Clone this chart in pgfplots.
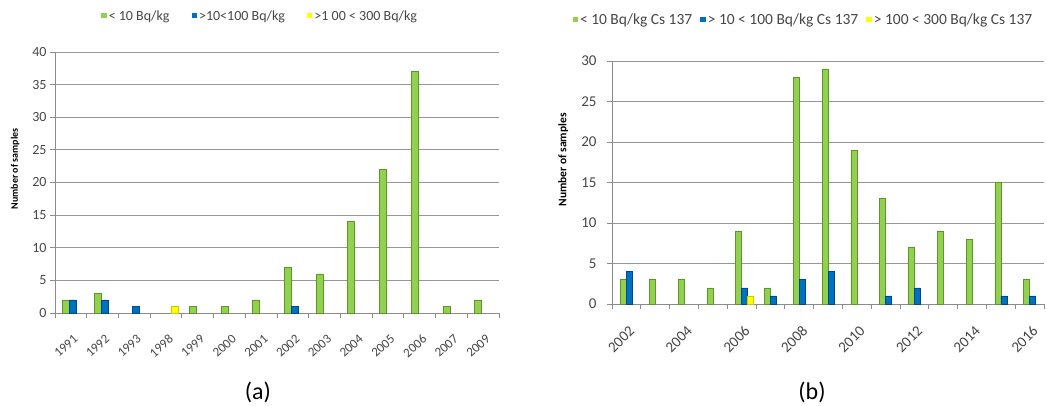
\documentclass[border=0pt]{standalone}
\usepackage{fontspec}
\setmainfont{Carlito}
\usepackage{pgfplots}
\pgfplotsset{compat=1.18}
\definecolor{xgreen}{RGB}{146,208,80}
\definecolor{xgreend}{RGB}{96,150,40}
\definecolor{xblue}{RGB}{0,112,192}
\definecolor{xblued}{RGB}{0,72,140}
\definecolor{xyellow}{RGB}{255,255,0}
\definecolor{xyellowd}{RGB}{210,200,0}
\definecolor{xgrid}{RGB}{150,150,150}
\definecolor{xaxis}{RGB}{140,140,140}
\definecolor{xtext}{RGB}{70,70,70}
\pgfplotsset{
  common/.style={
    scale only axis,
    enlargelimits=false,
    ymin=0,
    axis x line*=bottom, axis y line*=left,
    axis line style={draw=xaxis, line width=0.8pt},
    ymajorgrids, grid style={draw=xgrid, line width=0.8pt},
    tick align=outside, major tick length=5pt, minor tick length=5pt,
    tick style={draw=xaxis, line width=0.8pt},
    major x tick style={draw=none},
    /pgf/number format/assume math mode=true,
    yticklabel style={text=xtext},
    legend cell align=left,
    legend image code/.code={\fill[##1,draw=none] (0pt,-2.5pt) rectangle (5.5pt,2.5pt);},
  },
  gbar/.style={ybar, fill=xgreen, draw=xgreend, line width=0.6pt},
  bbar/.style={ybar, fill=xblue, draw=xblued, line width=0.6pt},
  ybarr/.style={ybar, fill=xyellow, draw=xyellowd, line width=0.6pt},
}
\begin{document}
\begin{tikzpicture}[x=1pt,y=1pt]
\useasboundingbox (0,0) rectangle (1047,405);
% ---------- (a) ----------
\begin{axis}[common,
  at={(55pt,92pt)}, anchor=south west,
  width=444pt, height=261pt,
  xmin=-0.5, xmax=13.5, ymax=40,
  ytick={0,5,...,40},
  xtick={0,...,13},
  xticklabels={1991,1992,1993,1998,1999,2000,2001,2002,2003,2004,2005,2006,2007,2009},
  minor xtick={-0.5,0.5,...,13.5},
  yticklabel style={font=\fontsize{14}{14}\selectfont},
  xticklabel style={font=\fontsize{13}{13}\selectfont, text=xtext, inner sep=0.5pt,
    xshift=2pt, yshift=-15pt, rotate=42, anchor=north east},
  ylabel={\textbf{Number of samples}},
  ylabel style={at={(axis description cs:-0.090,0.552)}, anchor=center, font=\fontsize{10}{10}\selectfont, text=black},
  legend columns=3,
  legend style={at={(0.462,1.138)}, anchor=center, draw=none, fill=none,
    font=\fontsize{14}{14}\selectfont, text=xtext,
    /tikz/every even column/.append style={column sep=20pt}},
]
\addplot[gbar, bar width=7pt, bar shift=-5pt] coordinates {(0,2)(1,3)(4,1)(5,1)(6,2)(7,7)(8,6)(9,14)(10,22)(11,37)(12,1)(13,2)};
\addlegendentry{< 10 Bq/kg}
\addplot[bbar, bar width=7pt, bar shift=2pt] coordinates {(0,2)(1,2)(2,1)(7,1)};
\addlegendentry{>10<100 Bq/kg}
\addplot[ybarr, bar width=7pt, bar shift=9pt] coordinates {(3,1)};
\addlegendentry{>1 00 < 300 Bq/kg}
\end{axis}
% ---------- (b) ----------
\begin{axis}[common,
  at={(612pt,101pt)}, anchor=south west,
  width=432pt, height=243pt,
  xmin=-0.5, xmax=14.5, ymax=30,
  ytick={0,5,...,30},
  xtick={0,2,...,14},
  xticklabels={2002,2004,2006,2008,2010,2012,2014,2016},
  minor xtick={-0.5,0.5,...,14.5},
  yticklabel style={font=\fontsize{15}{15}\selectfont, xshift=-7pt},
  xticklabel style={font=\fontsize{15}{15}\selectfont, text=xtext, inner sep=0.5pt,
    xshift=2pt, yshift=-15pt, rotate=45, anchor=north east},
  ylabel={\textbf{Number of samples}},
  ylabel style={at={(axis description cs:-0.113,0.593)}, anchor=center, font=\fontsize{11.5}{11.5}\selectfont, text=black},
  legend columns=3,
  legend style={at={(0.443,1.169)}, anchor=center, draw=none, fill=none,
    font=\fontsize{15.5}{15.5}\selectfont, text=xtext,
    /tikz/every even column/.append style={column sep=6pt}},
]
\addplot[gbar, bar width=6pt, bar shift=-3pt] coordinates {(0,3)(1,3)(2,3)(3,2)(4,9)(5,2)(6,28)(7,29)(8,19)(9,13)(10,7)(11,9)(12,8)(13,15)(14,3)};
\addlegendentry{< 10 Bq/kg Cs 137}
\addplot[bbar, bar width=6pt, bar shift=3pt] coordinates {(0,4)(4,2)(5,1)(6,3)(7,4)(9,1)(10,2)(13,1)(14,1)};
\addlegendentry{> 10 < 100 Bq/kg Cs 137}
\addplot[ybarr, bar width=6pt, bar shift=9pt] coordinates {(4,1)};
\addlegendentry{> 100 < 300 Bq/kg Cs 137}
\end{axis}
\node[font=\fontsize{24}{24}\selectfont] at (258,13) {(a)};
\node[font=\fontsize{24}{24}\selectfont] at (812,13) {(b)};
\end{tikzpicture}
\end{document}
